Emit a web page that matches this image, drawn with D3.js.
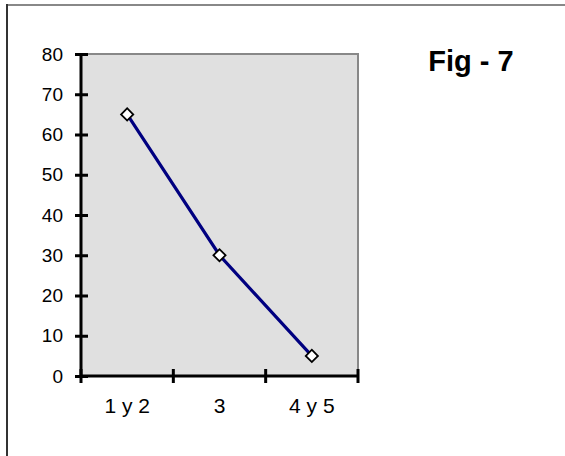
<!DOCTYPE html>
<html>
<head>
<meta charset="utf-8">
<script src="https://cdn.jsdelivr.net/npm/d3@7"></script>
<style>
  body { margin: 0; background: #fff; }
  svg { display: block; font-family: "Liberation Sans", Arial, sans-serif; }
</style>
</head>
<body>
<div id="chart"></div>
<script>
var categories = ["1 y 2", "3", "4 y 5"];
var values = [65, 30, 5];
var yTicks = [0, 10, 20, 30, 40, 50, 60, 70, 80];
var title = "Fig - 7";

var width = 565, height = 456;
var plot = {left: 81, top: 54, right: 358, bottom: 376};

var svg = d3.select("#chart").append("svg")
    .attr("width", width)
    .attr("height", height);

// outer frame (only top and left edges are visible in the picture)
svg.append("line")
    .attr("x1", 7).attr("y1", 5).attr("x2", width).attr("y2", 5)
    .attr("stroke", "#888").attr("stroke-width", 2);
svg.append("line")
    .attr("x1", 7).attr("y1", 4).attr("x2", 7).attr("y2", height)
    .attr("stroke", "#333").attr("stroke-width", 2);

var x = d3.scaleBand()
    .domain(categories)
    .range([plot.left, plot.right])
    .padding(0);

var y = d3.scaleLinear()
    .domain([0, 80])
    .range([plot.bottom, plot.top]);

// plot area
svg.append("rect")
    .attr("x", plot.left)
    .attr("y", plot.top)
    .attr("width", plot.right - plot.left)
    .attr("height", plot.bottom - plot.top)
    .attr("fill", "#e0e0e0")
    .attr("stroke", "#888")
    .attr("stroke-width", 2);

// y axis
var yAxis = svg.append("g")
    .attr("transform", "translate(" + plot.left + ",0)")
    .call(d3.axisLeft(y).tickValues(yTicks).tickSize(6).tickPadding(12));
yAxis.select(".domain").attr("stroke", "#000").attr("stroke-width", 3)
    .attr("d", "M0," + plot.top + "V" + plot.bottom);
yAxis.selectAll(".tick line")
    .attr("x1", -6).attr("x2", 7)
    .attr("stroke", "#000").attr("stroke-width", 3);
yAxis.selectAll(".tick text")
    .attr("font-size", 19)
    .attr("font-family", "Liberation Sans, Arial, sans-serif")
    .attr("fill", "#000");

// x axis: ticks on band boundaries
var boundaries = categories.map(function(c) { return x(c); }).concat([plot.right]);
var xAxis = svg.append("g")
    .attr("transform", "translate(0," + plot.bottom + ")");
xAxis.append("line")
    .attr("x1", plot.left).attr("x2", plot.right + 1)
    .attr("stroke", "#000").attr("stroke-width", 3);
xAxis.selectAll(".xtick")
    .data(boundaries)
    .enter().append("line")
    .attr("class", "xtick")
    .attr("x1", function(d) { return d; })
    .attr("x2", function(d) { return d; })
    .attr("y1", -7).attr("y2", 7)
    .attr("stroke", "#000").attr("stroke-width", 3);
xAxis.selectAll(".xlabel")
    .data(categories)
    .enter().append("text")
    .attr("class", "xlabel")
    .attr("x", function(d) { return x(d) + x.bandwidth() / 2; })
    .attr("y", 37)
    .attr("text-anchor", "middle")
    .attr("font-size", 21)
    .attr("fill", "#000")
    .text(function(d) { return d; });

// series line
var line = d3.line()
    .x(function(d, i) { return x(categories[i]) + x.bandwidth() / 2; })
    .y(function(d) { return y(d); });

svg.append("path")
    .datum(values)
    .attr("d", line)
    .attr("fill", "none")
    .attr("stroke", "#000080")
    .attr("stroke-width", 3.2);

// diamond markers
svg.selectAll(".marker")
    .data(values)
    .enter().append("path")
    .attr("class", "marker")
    .attr("transform", function(d, i) {
        return "translate(" + (x(categories[i]) + x.bandwidth() / 2) + "," + y(d) + ") rotate(45)";
    })
    .attr("d", "M-4.3,-4.3H4.3V4.3H-4.3Z")
    .attr("fill", "#fff")
    .attr("stroke", "#000")
    .attr("stroke-width", 1.8);

// title
svg.append("text")
    .attr("x", 471)
    .attr("y", 71)
    .attr("text-anchor", "middle")
    .attr("font-size", 29)
    .attr("font-weight", "bold")
    .attr("fill", "#000")
    .text(title);
</script>
</body>
</html>
